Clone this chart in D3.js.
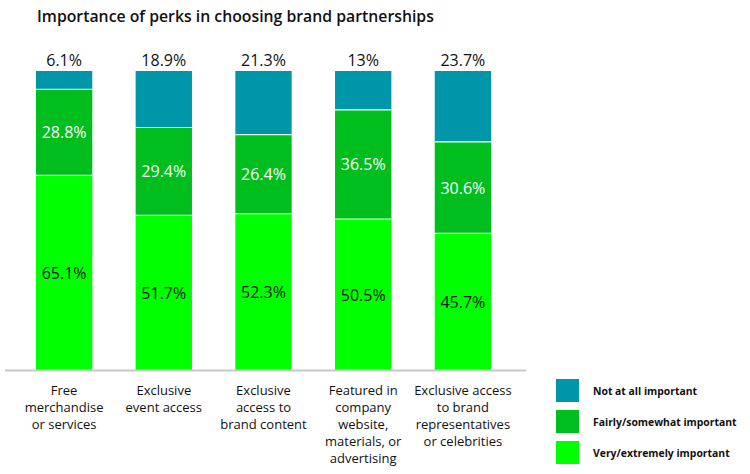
<!DOCTYPE html>
<html><head><meta charset="utf-8">
<script src="https://cdn.jsdelivr.net/npm/d3@7"></script>
<style>body{margin:0;background:#fff;}svg{display:block;font-family:"Open Sans",sans-serif;}</style>
</head><body><svg id="c" width="750" height="474"></svg>
<script>
const categories = [
  ["Free","merchandise","or services"],
  ["Exclusive","event access"],
  ["Exclusive","access to","brand content"],
  ["Featured in","company","website,","materials, or","advertising"],
  ["Exclusive access","to brand","representatives","or celebrities"]
];
const veryImportant = [65.1, 51.7, 52.3, 50.5, 45.7];
const fairlyImportant = [28.8, 29.4, 26.4, 36.5, 30.6];
const notImportant = [6.1, 18.9, 21.3, 13, 23.7];
const seriesNames = ["Very/extremely important","Fairly/somewhat important","Not at all important"];
const colors = ["#00FF00","#00BE1E","#0096AA"];
const labelColors = ["#111","#fff",null];

const svg = d3.select("#c");
svg.append("text").attr("x",37).attr("y",22).attr("font-size",15.8).attr("font-weight",600).attr("fill","#111")
  .text("Importance of perks in choosing brand partnerships");

const x = d3.scaleBand().domain(d3.range(categories.length)).range([16,511]).paddingInner(0.435).paddingOuter(0.2);
const y = d3.scaleLinear().domain([0,100]).range([370,71]);

const data = categories.map((c,i)=>({i, v0:veryImportant[i], v1:fairlyImportant[i], v2:notImportant[i]}));
const stack = d3.stack().keys(["v0","v1","v2"])(data);

const g = svg.append("g");
stack.forEach((layer,k)=>{
  g.selectAll(null).data(layer).enter().append("rect")
    .attr("x",d=>x(d.data.i)).attr("width",x.bandwidth())
    .attr("y",d=>y(d[1])).attr("height",d=>y(d[0])-y(d[1]))
    .attr("fill",colors[k]);
  if(k>0){
    g.selectAll(null).data(layer).enter().append("line")
      .attr("x1",d=>x(d.data.i)).attr("x2",d=>x(d.data.i)+x.bandwidth())
      .attr("y1",d=>y(d[0])).attr("y2",d=>y(d[0]))
      .attr("stroke","#e8ffe8").attr("stroke-width",1.2);
  }
  if(labelColors[k]){
    g.selectAll(null).data(layer).enter().append("text")
      .attr("x",d=>x(d.data.i)+x.bandwidth()/2).attr("y",d=>(y(d[0])+y(d[1]))/2+6)
      .attr("text-anchor","middle").attr("font-size",16).attr("fill",labelColors[k])
      .text(d=>(d[1]-d[0]).toFixed(1).replace(/\.0$/,"")+"%");
  } else {
    g.selectAll(null).data(layer).enter().append("text")
      .attr("x",d=>x(d.data.i)+x.bandwidth()/2).attr("y",d=>y(d[1])-5)
      .attr("text-anchor","middle").attr("font-size",16).attr("fill","#111")
      .text(d=>+(d[1]-d[0]).toFixed(1)+"%");
  }
});

svg.append("line").attr("x1",5).attr("x2",526).attr("y1",370.5).attr("y2",370.5)
  .attr("stroke","#c8c8c8").attr("stroke-width",2);

categories.forEach((lines,i)=>{
  const t = svg.append("text").attr("text-anchor","middle").attr("font-size",13).attr("fill","#111");
  lines.forEach((l,j)=>{
    t.append("tspan").attr("x",x(i)+x.bandwidth()/2).attr("y",395+j*17).text(l);
  });
});

const legendOrder = [2,1,0];
legendOrder.forEach((k,j)=>{
  const yy = 379 + j*31;
  svg.append("rect").attr("x",556).attr("y",yy).attr("width",23).attr("height",23).attr("fill",colors[k]);
  svg.append("text").attr("x",593).attr("y",yy+15.5).attr("font-size",10.4).attr("font-weight",700).attr("fill","#111")
    .text(seriesNames[k]);
});
</script></body></html>
